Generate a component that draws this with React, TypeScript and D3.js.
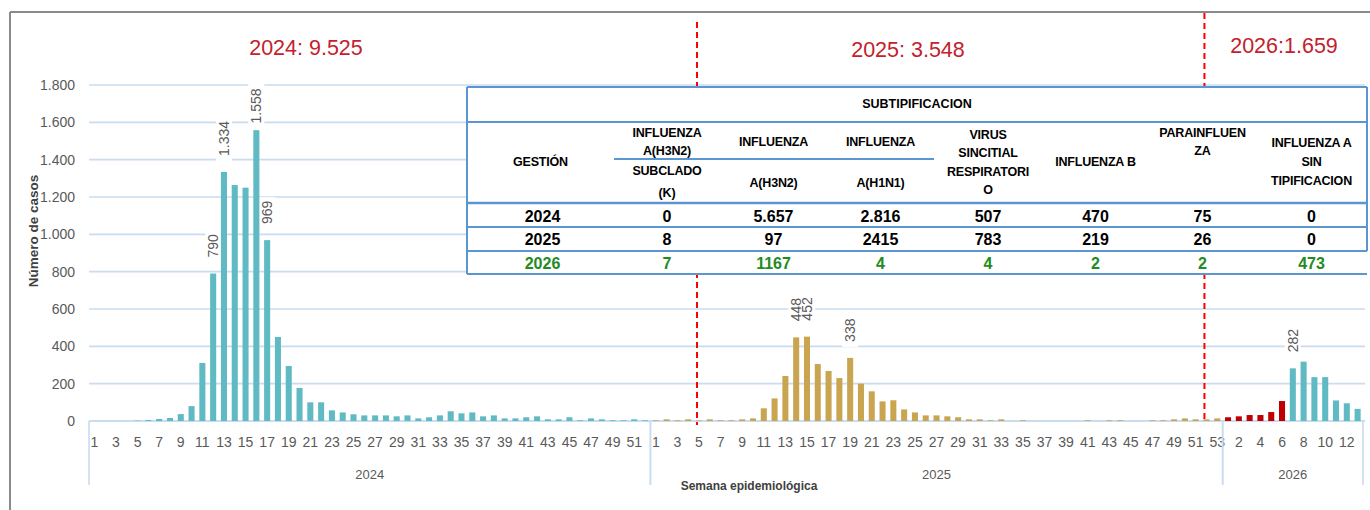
import React from "react";
import * as d3 from "d3";

// ---------- DATA ----------
const cases2024 = [0,0,0,0,2,5,11,16,37,80,311,790,1334,1264,1250,1558,969,450,295,177,100,100,57,46,36,30,30,30,25,30,14,20,30,52,41,46,25,30,14,14,20,25,9,9,20,4,14,9,4,4,9,4];
const cases2025 = [4,9,4,9,3,9,4,4,9,14,68,121,241,448,452,305,268,230,338,200,159,105,111,62,46,30,30,25,20,9,9,4,9,0,4,0,0,0,0,0,4,0,4,4,0,0,4,4,9,14,9,9,14];
const cases2026 = [20,25,32,32,48,107,282,318,235,235,110,95,65];
const series2026 = ["r","r","r","r","r","r","t","t","t","t","t","t","t"];
const years = ["2024", "2025", "2026"];
const yTicks = [0,200,400,600,800,1000,1200,1400,1600,1800];
const labeled = [
  { year: "2024", week: 12 }, { year: "2024", week: 13 }, { year: "2024", week: 16 }, { year: "2024", week: 17 },
  { year: "2025", week: 14 }, { year: "2025", week: 15 }, { year: "2025", week: 19 },
  { year: "2026", week: 7 },
];
const totals = ["2024: 9.525", "2025: 3.548", "2026:1.659"];
const dividerWeeks = [{ year: "2025", week: 5 }, { year: "2025", week: 52 }];

const tableYears = ["2024", "2025", "2026"];
const colSubclado = ["0", "8", "7"];
const colH3N2 = ["5.657", "97", "1167"];
const colH1N1 = ["2.816", "2415", "4"];
const colVSR = ["507", "783", "4"];
const colFluB = ["470", "219", "2"];
const colPara = ["75", "26", "2"];
const colSinTip = ["0", "0", "473"];

// ---------- STYLE ----------
const C_TEAL = "#5FBAC4";
const C_GOLD = "#C9A552";
const C_RED = "#C00000";
const C_GRID = "#C9DCF0";
const C_TXT = "#595959";
const C_ANN = "#C3212B";
const C_TBL = "#5B95D2";
const C_GREEN = "#228B22";
const FONT = "'Liberation Sans', Arial, sans-serif";

const locale = d3.formatLocale({ decimal: ",", thousands: ".", grouping: [3], currency: ["", ""] });
const fmt = locale.format(",d");

type Bar = { key: string; year: string; week: number; value: number; color: string };

const bars: Bar[] = [
  ...cases2024.map((v, i) => ({ key: `2024-${i + 1}`, year: "2024", week: i + 1, value: v, color: C_TEAL })),
  ...cases2025.map((v, i) => ({ key: `2025-${i + 1}`, year: "2025", week: i + 1, value: v, color: C_GOLD })),
  ...cases2026.map((v, i) => ({ key: `2026-${i + 1}`, year: "2026", week: i + 1, value: v, color: series2026[i] === "r" ? C_RED : C_TEAL })),
];

export default function App() {
  const W = 1370, H = 510;
  const plotL = 89, plotR = 1363, plotT = 85, plotB = 421;
  const x = d3.scaleBand<string>().domain(bars.map(b => b.key)).range([plotL, plotR]).paddingInner(0.44).paddingOuter(0.22);
  const step = x.step();
  const bw = x.bandwidth();
  const y = d3.scaleLinear().domain([0, 1800]).range([plotB, plotT]);
  const cx = (k: string) => (x(k) as number) + bw / 2;

  const groups = years.map(yr => {
    const ks = bars.filter(b => b.year === yr).map(b => b.key);
    const x0 = (x(ks[0]) as number) + bw / 2 - step / 2;
    const x1 = (x(ks[ks.length - 1]) as number) + bw / 2 + step / 2;
    return { yr, x0, x1 };
  });

  const labelInfo = labeled.map(l => {
    const b = bars.find(bb => bb.year === l.year && bb.week === l.week)!;
    const txt = fmt(b.value);
    const len = txt.length * 7.3;
    const ay = Math.max(y(b.value) - 16, plotT + 2 + len);
    return { b, txt, len, ay, c: cx(b.key) };
  });

  // table layout
  const tX = 467, tTop = 87, tHeadB = 122, tSub = 159, tBlockB = 203, rowLines = [227, 251], tBot = 274;
  const colW = [147, 106, 107, 107, 108, 107, 107, 111];
  const colX: number[] = [];
  colW.reduce((acc, w) => { colX.push(acc); return acc + w; }, tX);
  const tR = tX + d3.sum(colW);
  const colC = colX.map((cx0, i) => cx0 + colW[i] / 2);
  const headers: { lines: [string, number][] }[] = [
    { lines: [["GESTIÓN", 162]] },
    { lines: [["INFLUENZA", 133], ["A(H3N2)", 151], ["SUBCLADO", 171], ["(K)", 193]] },
    { lines: [["INFLUENZA", 142], ["A(H3N2)", 183]] },
    { lines: [["INFLUENZA", 142], ["A(H1N1)", 183]] },
    { lines: [["VIRUS", 135], ["SINCITIAL", 153], ["RESPIRATORI", 172], ["O", 190]] },
    { lines: [["INFLUENZA B", 162]] },
    { lines: [["PARAINFLUEN", 133], ["ZA", 151]] },
    { lines: [["INFLUENZA A", 143], ["SIN", 162], ["TIPIFICACION", 181]] },
  ];
  const tableCols = [tableYears, colSubclado, colH3N2, colH1N1, colVSR, colFluB, colPara, colSinTip];
  const rowY = [216, 239, 263];

  const annX = [306, 908, 1284];
  const annY = [55, 57, 53];

  return (
    <svg width={W} height={H} style={{ position: "absolute", left: 0, top: 0, background: "#fff" }} fontFamily={FONT}>
      <rect x={0} y={0} width={W} height={H} fill="#fff" />
      <line x1={10} y1={12} x2={W} y2={12} stroke="#8a8a8a" strokeWidth={2} />
      <line x1={10} y1={12} x2={10} y2={H} stroke="#8a8a8a" strokeWidth={2} />

      {yTicks.map(t => (
        <g key={t}>
          <line x1={plotL} x2={plotR + 2} y1={y(t)} y2={y(t)} stroke={C_GRID} strokeWidth={t === 0 ? 2 : 1.6} />
          <text x={75} y={y(t)} textAnchor="end" dominantBaseline="central" fontSize={14} fill={C_TXT}>{fmt(t)}</text>
        </g>
      ))}
      <text transform={`translate(33,231) rotate(-90)`} textAnchor="middle" dominantBaseline="central" fontSize={13.5} fontWeight="bold" fill="#404040">Número de casos</text>

      {/* label backgrounds (hide gridlines only) */}
      {labelInfo.map(l => (
        <rect key={"bg" + l.b.key} x={l.c - 8} y={l.ay - l.len - 5} width={16} height={l.len + 10} fill="#fff" />
      ))}

      {bars.map(b => (
        <rect key={b.key} x={x(b.key)} y={y(b.value)} width={bw} height={plotB - y(b.value)} fill={b.color} />
      ))}

      {bars.map((b, i) => i % 2 === 0 ? (
        <text key={"xl" + b.key} x={cx(b.key)} y={442} textAnchor="middle" dominantBaseline="central" fontSize={14} fill={C_TXT}>{b.week}</text>
      ) : null)}
      {groups.map(g => (
        <g key={g.yr}>
          <line x1={g.x0} x2={g.x0} y1={plotB} y2={485} stroke={C_GRID} strokeWidth={1.6} />
          <line x1={g.x1} x2={g.x1} y1={plotB} y2={485} stroke={C_GRID} strokeWidth={1.6} />
          <text x={(g.x0 + g.x1) / 2} y={474} textAnchor="middle" dominantBaseline="central" fontSize={13} fill={C_TXT}>{g.yr}</text>
        </g>
      ))}
      <text x={749} y={486} textAnchor="middle" dominantBaseline="central" fontSize={12} fontWeight="bold" fill="#404040">Semana epidemiológica</text>

      {labelInfo.map(l => (
        <text key={"dl" + l.b.key} transform={`translate(${l.c},${l.ay}) rotate(-90)`} textAnchor="start" dominantBaseline="central" fontSize={14} fill={C_TXT}>{l.txt}</text>
      ))}

      {dividerWeeks.map((d, i) => {
        const k = `${d.year}-${d.week}`;
        const xx = cx(k) - 2;
        return <line key={"dv" + i} x1={xx} x2={xx} y1={i === 0 ? 22 : 13} y2={i === 0 ? 425 : 421} stroke="#FF0000" strokeWidth={2} strokeDasharray="6,4" />;
      })}

      {totals.map((t, i) => (
        <text key={t} x={annX[i]} y={annY[i]} textAnchor="middle" fontSize={21.5} fill={C_ANN}>{t}</text>
      ))}

      {/* table */}
      <rect x={tX} y={tTop} width={tR - tX} height={tBot - tTop} fill="#fff" />
      <text x={(tX + tR) / 2} y={104} textAnchor="middle" dominantBaseline="central" fontSize={12.5} fontWeight="bold" fill="#000">SUBTIPIFICACION</text>
      {headers.map((h, ci) => h.lines.map(([s, yy], li) => (
        <text key={`h${ci}-${li}`} x={colC[ci]} y={yy} textAnchor="middle" dominantBaseline="central" fontSize={12.5} fontWeight="bold" fill="#000" letterSpacing={-0.2}>{s}</text>
      )))}
      {tableCols.map((col, ci) => col.map((v, ri) => (
        <text key={`c${ci}-${ri}`} x={ci === 0 ? colC[0] + 2 : colC[ci]} y={rowY[ri]} textAnchor="middle" dominantBaseline="central" fontSize={16} fontWeight="bold" fill={ri === 2 ? C_GREEN : "#000"}>{v}</text>
      )))}
      <g stroke={C_TBL} fill="none">
        <line x1={tX} x2={tR} y1={tTop} y2={tTop} strokeWidth={2} />
        <line x1={tX} x2={tR} y1={tHeadB} y2={tHeadB} strokeWidth={2} />
        <line x1={colX[1]} x2={colX[4]} y1={tSub} y2={tSub} strokeWidth={2} />
        <line x1={tX} x2={tR} y1={tBlockB} y2={tBlockB} strokeWidth={2.5} />
        {rowLines.map(r => <line key={r} x1={tX} x2={tR} y1={r} y2={r} strokeWidth={2} />)}
        <line x1={tX} x2={tR} y1={tBot} y2={tBot} strokeWidth={2} />
        <line x1={tX} x2={tX} y1={tTop} y2={tBot} strokeWidth={2} />
        <line x1={tR} x2={tR} y1={tTop} y2={rowLines[1]} strokeWidth={2} />
      </g>
    </svg>
  );
}
